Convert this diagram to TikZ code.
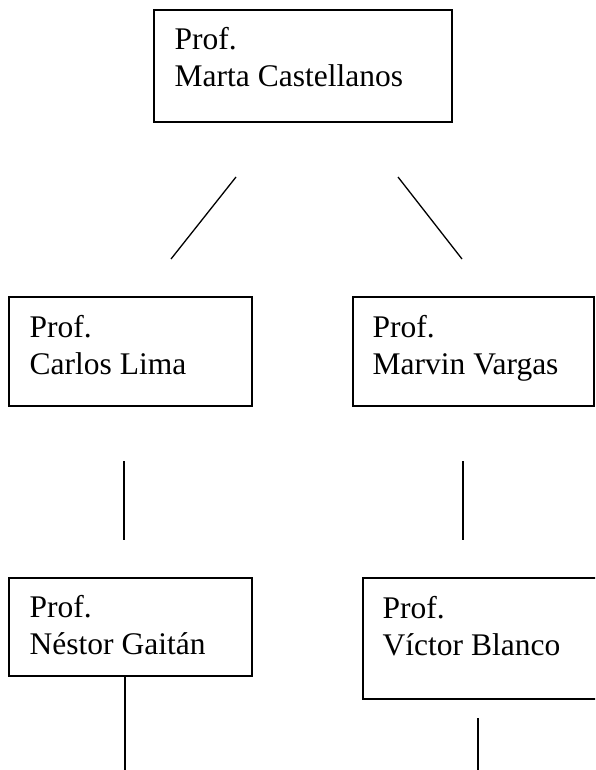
\documentclass[tikz,border=0pt]{standalone}
\usepackage{fontspec}
\setmainfont{Liberation Serif}
\tikzset{
  profbox/.style = {draw, rectangle, line width=1.8pt,
                    inner sep=0pt, outer sep=0pt, anchor=north west},
  proftext/.style = {anchor=north west, inner sep=0pt, align=left,
                     font=\fontsize{31.5}{37}\selectfont},
  link/.style = {line width=1.3pt}
}

\begin{document}
\begin{tikzpicture}[x=1pt, y=-1pt]
	\def \wcol{243pt}
	\def \hrow{109pt}
	\clip (0,0) rectangle (595,770);

	% Boxes
	\node[profbox, minimum width=298pt, minimum height=112pt] (marta) at (154,10) {};
	\node[profbox, minimum width=\wcol, minimum height=\hrow] (lima) at (9,297) {};
	\node[profbox, minimum width=241pt, minimum height=\hrow] (vargas) at (353,297) {};
	\node[profbox, minimum width=\wcol, minimum height=98pt] (gaitan) at (9,578) {};
	\node[profbox, minimum width=260pt, minimum height=121pt] (blanco) at (363,578) {};

	% Names
	\node[proftext] (marta text) at (174.5,27.5) {Prof.\\Marta Castellanos};
	\node[proftext] (lima text) at (29.5,315.5) {Prof.\\Carlos Lima};
	\node[proftext] (vargas text) at (372.5,315.5) {Prof.\\Marvin Vargas};
	\node[proftext] (gaitan text) at (29.5,595.5) {Prof.\\Néstor Gaitán};
	\node[proftext] (blanco text) at (382.5,596.5) {Prof.\\Víctor Blanco};

	% Line ends
	\coordinate (marta left) at (236,177);
	\coordinate (lima up) at (171,259);
	\coordinate (marta right) at (398,177);
	\coordinate (vargas up) at (462,259);
	\coordinate (lima low) at (124,461);
	\coordinate (gaitan up) at (124,540);
	\coordinate (vargas low) at (463,461);
	\coordinate (blanco up) at (463,540);
	\coordinate (gaitan low) at (125,772);
	\coordinate (blanco top) at (478,718);
	\coordinate (blanco low) at (478,772);

	% Lines
	\draw[link] (marta left) -- (lima up);
	\draw[link] (marta right) -- (vargas up);
	\draw[link] (lima low) -- (gaitan up);
	\draw[link] (vargas low) -- (blanco up);
	\draw[link] (gaitan.south -| gaitan low) -- (gaitan low);
	\draw[link] (blanco top) -- (blanco low);
\end{tikzpicture}
\end{document}
